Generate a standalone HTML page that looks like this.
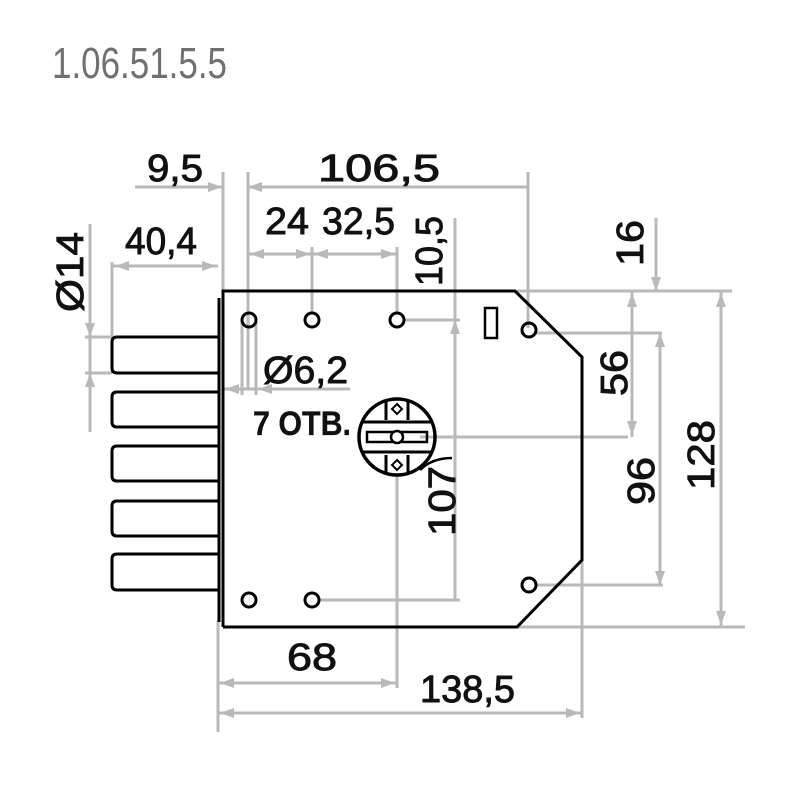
<!DOCTYPE html>
<html><head><meta charset="utf-8"><style>
html,body{margin:0;padding:0;background:#fff;width:800px;height:800px;overflow:hidden}
svg{display:block}
.d{stroke:#b9b9b9;stroke-width:3;fill:none}
.k{stroke:#000;stroke-width:3;fill:none}
.t{font-family:"Liberation Sans",sans-serif;font-size:38px;fill:#111;stroke:#111;stroke-width:0.9}
.a{fill:#b9b9b9}
</style></head><body>
<svg width="800" height="800" viewBox="0 0 800 800" xmlns="http://www.w3.org/2000/svg">
<text x="52" y="78" font-family="Liberation Sans Narrow, Liberation Sans, sans-serif" font-size="44" fill="#707070" textLength="175" lengthAdjust="spacingAndGlyphs">1.06.51.5.5</text>

<g class="d">
<line x1="135" y1="187" x2="222" y2="187"/><line x1="248" y1="187" x2="528" y2="187"/>
<line x1="223" y1="172" x2="223" y2="290"/><line x1="248" y1="172" x2="248" y2="390"/>
<line x1="528" y1="172" x2="528" y2="328"/>
<line x1="112" y1="266" x2="218" y2="266"/><line x1="112" y1="262" x2="112" y2="337"/>
<line x1="90" y1="224" x2="90" y2="432"/><line x1="85" y1="337" x2="112" y2="337"/><line x1="85" y1="373" x2="112" y2="373"/>
<line x1="248" y1="254" x2="397" y2="254"/><line x1="312" y1="247" x2="312" y2="314"/><line x1="397" y1="247" x2="397" y2="314"/>
<line x1="242" y1="322" x2="242" y2="395"/><line x1="256" y1="322" x2="256" y2="395"/>
<line x1="222" y1="389" x2="350" y2="389"/>
<line x1="455" y1="218" x2="455" y2="600"/><line x1="404" y1="320" x2="460" y2="320"/>
<line x1="318" y1="600" x2="460" y2="600"/>
<line x1="517" y1="291" x2="732" y2="291"/><line x1="517" y1="627" x2="745" y2="627"/>
<line x1="536" y1="333" x2="662" y2="333"/><line x1="536" y1="585" x2="663" y2="585"/>
<line x1="420" y1="437" x2="628" y2="437"/>
<line x1="632" y1="291" x2="632" y2="437"/>
<line x1="660" y1="333" x2="660" y2="585"/>
<line x1="656" y1="218" x2="656" y2="291"/>
<line x1="721" y1="291" x2="721" y2="627"/>
<line x1="218" y1="620" x2="218" y2="732"/><line x1="582" y1="560" x2="582" y2="718"/>
<line x1="397" y1="475" x2="397" y2="688"/>
<line x1="218" y1="683" x2="397" y2="683"/><line x1="218" y1="713" x2="582" y2="713"/>
</g>
<g class="a">
<polygon points="222,187 208,182 208,192"/><polygon points="248,187 262,182 262,192"/>
<polygon points="115,266 129,261 129,271"/><polygon points="216,266 202,261 202,271"/>
<polygon points="90,337 85,323 95,323"/><polygon points="90,373 85,387 95,387"/>
<polygon points="250,254 264,249 264,259"/><polygon points="310,254 296,249 296,259"/><polygon points="314,254 328,249 328,259"/><polygon points="395,254 381,249 381,259"/>
<polygon points="225,389 239,384 239,394"/><polygon points="258,389 272,384 272,394"/>
<polygon points="455,320 450,334 460,334"/>
<polygon points="632,293 627,307 637,307"/><polygon points="632,435 627,421 637,421"/>
<polygon points="656,291 651,277 661,277"/><polygon points="660,333 655,347 665,347"/><polygon points="660,585 655,571 665,571"/>
<polygon points="721,293 716,307 726,307"/><polygon points="721,625 716,611 726,611"/>
<polygon points="220,683 234,678 234,688"/><polygon points="395,683 381,678 381,688"/>
<polygon points="220,713 234,708 234,718"/><polygon points="580,713 566,708 566,718"/>
</g>

<g class="k">
<polyline points="223,627 223,291 515,291 582,357 582,560 517,627 223,627"/>
<line x1="219" y1="298" x2="219" y2="622"/>
<path d="M218,337 H117 Q112,337 112,342 V368 Q112,373 117,373 H218"/>
<path d="M218,392 H117 Q112,392 112,397 V422 Q112,427 117,427 H218"/>
<path d="M218,446 H117 Q112,446 112,451 V476 Q112,481 117,481 H218"/>
<path d="M218,501 H117 Q112,501 112,506 V531 Q112,536 117,536 H218"/>
<path d="M218,554 H117 Q112,554 112,559 V585 Q112,590 117,590 H218"/>
<circle cx="249" cy="320" r="7"/><circle cx="312" cy="320" r="7"/><circle cx="397" cy="320" r="7"/>
<circle cx="529" cy="330" r="7"/><circle cx="249" cy="600" r="7"/><circle cx="312" cy="600" r="7"/><circle cx="529" cy="585" r="7"/>
<rect x="485" y="308" width="12" height="30" stroke-width="2.5"/>
<circle cx="397" cy="437" r="38" stroke-width="3.5"/>
<path d="M386,400 V420 M408,400 V420 M386,455 V474 M408,455 V474" />
<line x1="362" y1="422" x2="432" y2="422"/><line x1="362" y1="452" x2="432" y2="452"/>
<rect x="367" y="432" width="60" height="10" stroke-width="2.5"/>
<circle cx="397" cy="437" r="6" stroke-width="2.5" fill="#fff"/>
<path d="M397,404 l5,5 -5,5 -5,-5z M397,460 l5,5 -5,5 -5,-5z" stroke-width="2"/>
<path d="M420,470 Q432,458 452,458" stroke-width="2.5"/>
</g>

<g class="t">
<text x="147" y="181" textLength="56" lengthAdjust="spacingAndGlyphs">9,5</text>
<text x="318" y="181" textLength="122" lengthAdjust="spacingAndGlyphs">106,5</text>
<text x="125" y="254" textLength="72" lengthAdjust="spacingAndGlyphs">40,4</text>
<text x="265" y="234" textLength="44" lengthAdjust="spacingAndGlyphs">24</text>
<text x="322" y="234" textLength="73" lengthAdjust="spacingAndGlyphs">32,5</text>
<text x="263" y="383" textLength="85" lengthAdjust="spacingAndGlyphs">Ø6,2</text>
<text x="253" y="435" font-weight="bold" font-size="34" stroke-width="0.3" textLength="98" lengthAdjust="spacingAndGlyphs">7 ОТВ.</text>
<text x="287" y="670" textLength="50" lengthAdjust="spacingAndGlyphs">68</text>
<text x="420" y="702" textLength="95" lengthAdjust="spacingAndGlyphs">138,5</text>
<text transform="translate(442,286) rotate(-90)" textLength="70" lengthAdjust="spacingAndGlyphs">10,5</text>
<text transform="translate(83,312) rotate(-90)" textLength="80" lengthAdjust="spacingAndGlyphs">Ø14</text>
<text transform="translate(643,266) rotate(-90)" textLength="46" lengthAdjust="spacingAndGlyphs">16</text>
<text transform="translate(627,396) rotate(-90)" textLength="46" lengthAdjust="spacingAndGlyphs">56</text>
<text transform="translate(654,505) rotate(-90)" textLength="48" lengthAdjust="spacingAndGlyphs">96</text>
<text transform="translate(714,490) rotate(-90)" textLength="70" lengthAdjust="spacingAndGlyphs">128</text>
<text transform="translate(455,536) rotate(-90)" textLength="70" lengthAdjust="spacingAndGlyphs">107</text>
</g>
</svg>
</body></html>
